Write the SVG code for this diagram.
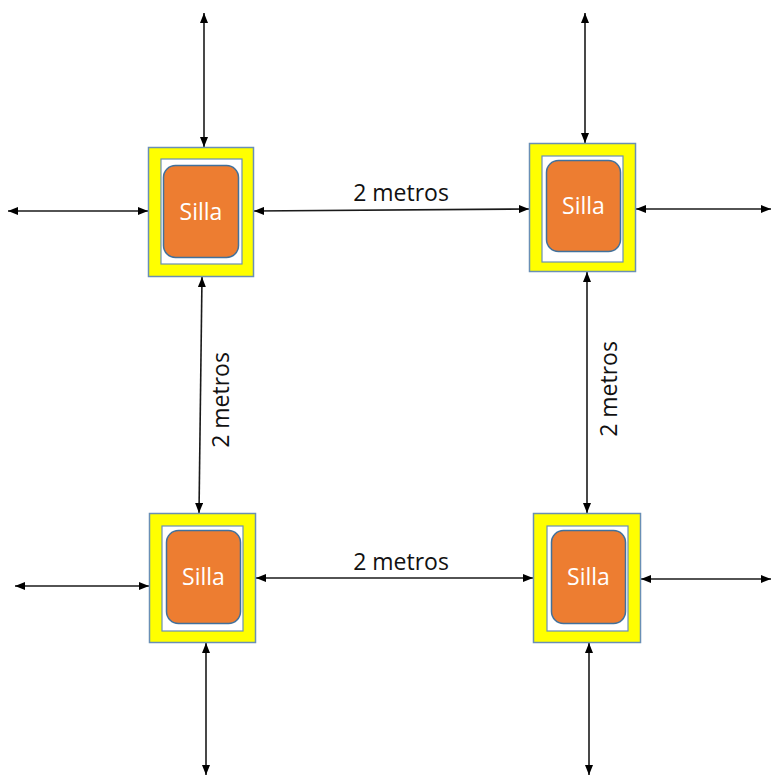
<svg xmlns="http://www.w3.org/2000/svg" width="771" height="775" viewBox="0 0 771 775">
  <style>
    .frame { fill: #FFFF00; stroke: #6A8FB5; stroke-width: 1.5; }
    .pad { fill: #FFFFFF; stroke: #6A8FB5; stroke-width: 1.2; }
    .seat { fill: #ED7D31; stroke: #41719C; stroke-width: 1.5; }
    .seat-label { font-family: "Open Sans", "Liberation Sans", sans-serif; font-size: 23px; fill: #FFFFFF; text-anchor: middle; }
    .dim { font-family: "Open Sans", "Liberation Sans", sans-serif; font-size: 23px; fill: #111111; text-anchor: middle; }
    .link { stroke: #1A1A1A; stroke-width: 1.6; fill: none; marker-start: url(#head); marker-end: url(#head); }
  </style>
  <defs>
    <marker id="head" viewBox="0 0 10 8" refX="10" refY="4" markerWidth="10" markerHeight="8" markerUnits="userSpaceOnUse" orient="auto-start-reverse">
      <path d="M0,0 L10,4 L0,8 z" fill="#000000"/>
    </marker>
  </defs>
  <rect width="771" height="775" fill="#FFFFFF"/>

  <!-- connectors -->
  <g id="connectors">
    <!-- top-left chair -->
    <line class="link" x1="204" y1="13" x2="204" y2="147"/>
    <line class="link" x1="8" y1="211" x2="148" y2="211"/>
    <!-- top-right chair -->
    <line class="link" x1="585" y1="13" x2="585" y2="143"/>
    <line class="link" x1="636" y1="209" x2="771" y2="209"/>
    <!-- between chairs -->
    <line class="link" x1="254" y1="211" x2="529" y2="209"/>
    <line class="link" x1="202" y1="277" x2="199" y2="513"/>
    <line class="link" x1="587" y1="272" x2="587" y2="513"/>
    <line class="link" x1="256" y1="578" x2="533" y2="578"/>
    <!-- bottom-left chair -->
    <line class="link" x1="15" y1="586" x2="149" y2="586"/>
    <line class="link" x1="206" y1="643" x2="206" y2="775"/>
    <!-- bottom-right chair -->
    <line class="link" x1="641" y1="579" x2="771" y2="579"/>
    <line class="link" x1="589" y1="643" x2="589" y2="775"/>

    <text class="dim" x="401" y="201">2 metros</text>
    <text class="dim" x="401" y="570">2 metros</text>
    <text class="dim" transform="translate(221,400) rotate(-90)" x="0" y="8">2 metros</text>
    <text class="dim" transform="translate(609,389) rotate(-90)" x="0" y="8">2 metros</text>
  </g>

  <!-- chairs -->
  <g id="silla-1">
    <rect class="frame" x="148.5" y="147.5" width="105" height="129"/>
    <rect class="pad" x="161" y="159" width="81" height="105"/>
    <rect class="seat" x="163.5" y="165.5" width="75" height="92" rx="12"/>
    <text class="seat-label" x="201" y="219.5">Silla</text>
  </g>
  <g id="silla-2">
    <rect class="frame" x="529.5" y="143.5" width="106" height="128"/>
    <rect class="pad" x="542" y="156" width="81" height="106"/>
    <rect class="seat" x="546.5" y="160.5" width="74" height="91" rx="12"/>
    <text class="seat-label" x="583.5" y="214">Silla</text>
  </g>
  <g id="silla-3">
    <rect class="frame" x="149.5" y="513.5" width="106" height="129"/>
    <rect class="pad" x="162" y="526" width="81" height="105"/>
    <rect class="seat" x="166.5" y="530.5" width="74" height="93" rx="12"/>
    <text class="seat-label" x="203.5" y="585">Silla</text>
  </g>
  <g id="silla-4">
    <rect class="frame" x="533.5" y="513.5" width="107" height="129"/>
    <rect class="pad" x="547" y="526" width="81" height="105"/>
    <rect class="seat" x="551.5" y="530.5" width="74" height="93" rx="12"/>
    <text class="seat-label" x="588.5" y="585">Silla</text>
  </g>
</svg>
